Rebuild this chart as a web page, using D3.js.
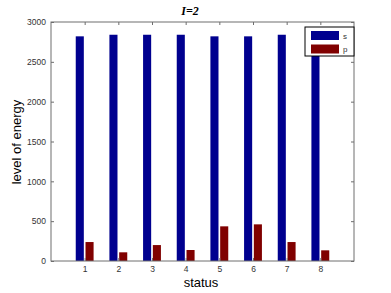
<!DOCTYPE html>
<html>
<head>
<meta charset="utf-8">
<script src="https://cdn.jsdelivr.net/npm/d3@7"></script>
<style>
body { margin: 0; background: #fff; }
</style>
</head>
<body>
<div id="chart"></div>
<script>
// data
var categories = ["1", "2", "3", "4", "5", "6", "7", "8"];
var sValues = [2820, 2840, 2840, 2840, 2820, 2820, 2840, 2840];
var pValues = [238, 109, 200, 138, 435, 460, 238, 134];
var yTicks = [0, 500, 1000, 1500, 2000, 2500, 3000];
var seriesNames = ["s", "p"];
var seriesColors = ["#00008f", "#800000"];

function init(){
	var w = 391;
	var h = 293;
	var left = 51, right = 354, top = 22, bottom = 261;

	var svg = d3.select("#chart")
		.append("svg")
		.attr("width", w)
		.attr("height", h);

	var xScale = d3.scaleLinear().domain([0, categories.length + 1]).range([left, right]);
	var yScale = d3.scaleLinear().domain([0, 3000]).range([bottom, top]);
	var barW = xScale(0.24) - xScale(0);

	var rows = categories.map(function(c, i){
		return {cat: c, i: i, vals: [sValues[i], pValues[i]]};
	});

	// bars
	seriesNames.forEach(function(name, k){
		var off = k === 0 ? -0.145 : 0.145;
		svg.selectAll("rect.s" + k)
			.data(rows)
			.enter()
			.append("rect")
			.attr("class", "s" + k)
			.attr("fill", seriesColors[k])
			.attr("x", function(d){ return xScale(d.i + 1 + off) - barW / 2; })
			.attr("y", function(d){ return yScale(d.vals[k]); })
			.attr("width", barW)
			.attr("height", function(d){ return yScale(0) - yScale(d.vals[k]); });
	});

	var axisColor = "#6e6e6e";

	// frame
	svg.append("rect")
		.attr("x", left).attr("y", top)
		.attr("width", right - left).attr("height", bottom - top)
		.attr("fill", "none").attr("stroke", axisColor).attr("stroke-width", 1);

	// y axis (left) with inward ticks, mirrored on right
	var yAxis = d3.axisLeft(yScale).tickValues(yTicks).tickFormat(d3.format("d"))
		.tickSizeInner(-3).tickSizeOuter(0).tickPadding(5);
	var gy = svg.append("g").attr("transform", "translate(" + left + ",0)").call(yAxis);
	var yAxisR = d3.axisRight(yScale).tickValues(yTicks).tickSizeInner(-3).tickSizeOuter(0).tickFormat("");
	var gyr = svg.append("g").attr("transform", "translate(" + right + ",0)").call(yAxisR);

	// x axis with inward ticks, mirrored on top
	var xAxis = d3.axisBottom(xScale).tickValues(d3.range(1, categories.length + 1))
		.tickFormat(function(d){ return categories[d - 1]; })
		.tickSizeInner(-3).tickSizeOuter(0).tickPadding(5);
	var gx = svg.append("g").attr("transform", "translate(0," + bottom + ")").call(xAxis);
	var xAxisT = d3.axisTop(xScale).tickValues(d3.range(1, categories.length + 1))
		.tickSizeInner(-3).tickSizeOuter(0).tickFormat("");
	var gxt = svg.append("g").attr("transform", "translate(0," + top + ")").call(xAxisT);

	[gy, gyr, gx, gxt].forEach(function(g){
		g.select(".domain").remove();
		g.selectAll("line").attr("stroke", axisColor);
		g.selectAll("text")
			.attr("font-family", "Liberation Sans, Arial, sans-serif")
			.attr("font-size", "8.5px")
			.attr("fill", "#333");
	});

	// title
	svg.append("text")
		.attr("x", 190).attr("y", 15)
		.attr("text-anchor", "middle")
		.attr("font-family", "Liberation Serif, Times New Roman, serif")
		.attr("font-style", "italic")
		.attr("font-weight", "bold")
		.attr("font-size", "12px")
		.text("I=2");

	// axis labels
	svg.append("text")
		.attr("x", 201).attr("y", 287)
		.attr("text-anchor", "middle")
		.attr("font-family", "Liberation Sans, Arial, sans-serif")
		.attr("font-size", "13px")
		.text("status");

	svg.append("text")
		.attr("transform", "translate(21,142) rotate(-90)")
		.attr("text-anchor", "middle")
		.attr("font-family", "Liberation Sans, Arial, sans-serif")
		.attr("font-size", "13px")
		.text("level of energy");

	// legend
	var lg = svg.append("g").attr("transform", "translate(305,27)");
	lg.append("rect")
		.attr("width", 49).attr("height", 29)
		.attr("fill", "#fff").attr("stroke", "#000").attr("stroke-width", 1);
	seriesNames.forEach(function(name, k){
		lg.append("rect")
			.attr("x", 6).attr("y", 4 + k * 13.5)
			.attr("width", 28).attr("height", 9)
			.attr("fill", seriesColors[k]);
		lg.append("text")
			.attr("x", 38).attr("y", 11.5 + k * 13.5)
			.attr("font-family", "Liberation Sans, Arial, sans-serif")
			.attr("font-size", "8px")
			.attr("fill", "#333")
			.text(name);
	});
}
window.onload = init;
</script>
</body>
</html>
